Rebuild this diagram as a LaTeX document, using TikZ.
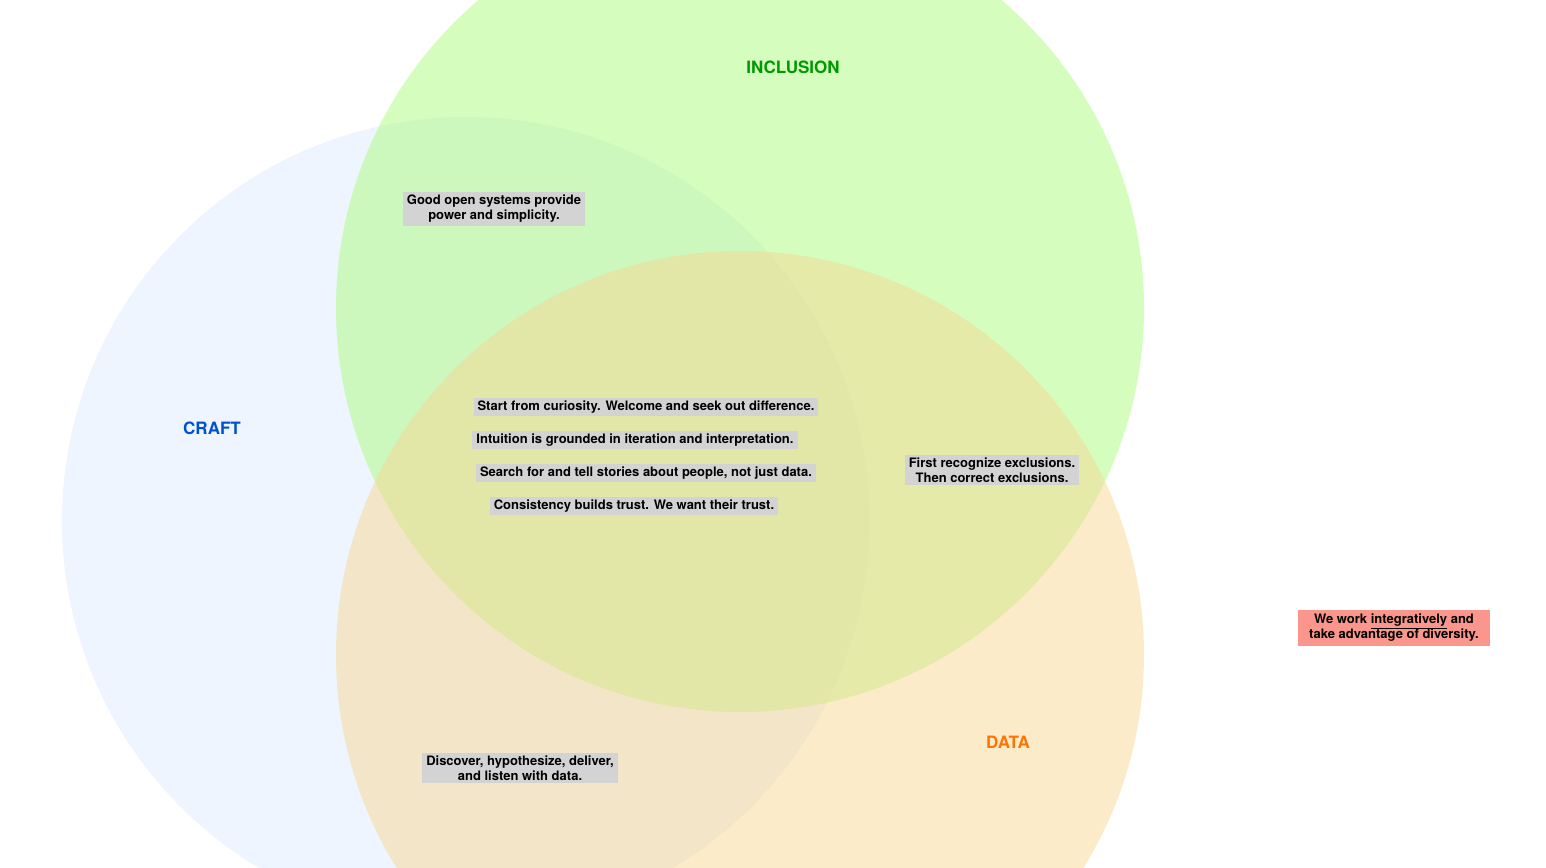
\documentclass[tikz,border=0pt]{standalone}
\usepackage{fontspec}
\setmainfont{TeX Gyre Heros}
\usetikzlibrary{decorations.pathmorphing}
\definecolor{cblue}{HTML}{DDEBFD}
\definecolor{cgreen}{HTML}{AAFB7D}
\definecolor{corange}{HTML}{F9D793}
\definecolor{boxgray}{HTML}{D3D3D3}
\definecolor{boxred}{HTML}{FA968B}
\tikzset{
  lbl/.style={fill=boxgray,font=\bfseries\fontsize{13}{15}\selectfont,align=center,inner xsep=4pt,inner ysep=3pt},
  head/.style={font=\bfseries\fontsize{17}{20}\selectfont},
  circ/.style={fill opacity=0.5}
}
\begin{document}
\begin{tikzpicture}[x=1pt,y=-1pt]
\useasboundingbox (0,0) rectangle (1546,867);
\begin{scope}
\clip (0,0) rectangle (1546,867);
\fill[cblue,circ] (466,521) circle (404);
\fill[cgreen,circ] (740,308) circle (404);
\fill[corange,circ] (740,655) circle (404);
\end{scope}
\node[head,text=green!60!black] (inc) at (793,67) {INCLUSION};
\node[head,text=blue!60!cyan!80!black] (craft) at (212,428) {CRAFT};
\node[head,text=orange!90!red] (data) at (1008,742) {DATA};
\node[lbl] (a) at (494,209) {Good open systems provide\\power and simplicity.};
\node[lbl] (b) at (646,407) {Start from curiosity. Welcome and seek out difference.};
\node[lbl] (c) at (635,440) {Intuition is grounded in iteration and interpretation.};
\node[lbl] (d) at (646,473) {Search for and tell stories about people, not just data.};
\node[lbl] (e) at (634,506) {Consistency builds trust. We want their trust.};
\node[lbl] (f) at (992,470) {First recognize exclusions.\\Then correct exclusions.};
\node[lbl] (g) at (520,768) {Discover, hypothesize, deliver,\\and listen with data.};
\node[lbl,fill=boxred,minimum width=192pt,minimum height=36pt] (h) at (1394,628) {We work \underline{integratively} and\\take advantage of diversity.};
\end{tikzpicture}
\end{document}
